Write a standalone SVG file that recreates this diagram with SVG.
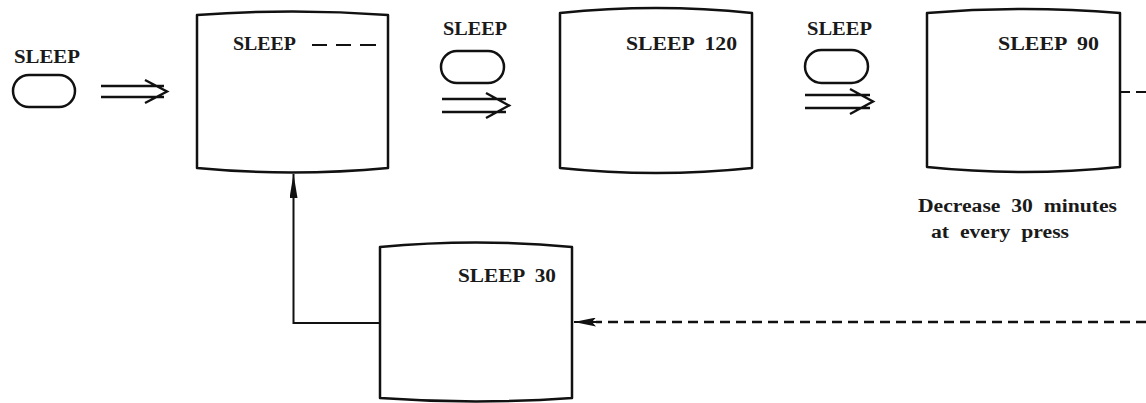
<svg xmlns="http://www.w3.org/2000/svg" width="1146" height="403" viewBox="0 0 1146 403">
<defs>
<marker id="up" markerWidth="24" markerHeight="8" refX="24" refY="4" orient="auto" markerUnits="userSpaceOnUse" viewBox="0 0 24 8">
<path d="M0,0 L24,4 L0,8 Z" fill="#111"/>
</marker>
<marker id="left" markerWidth="22" markerHeight="9" refX="22" refY="4.5" orient="auto" markerUnits="userSpaceOnUse" viewBox="0 0 22 9">
<path d="M0,0 L22,4.5 L0,9 L4,4.5 Z" fill="#111"/>
</marker>
</defs>
<style>
.box{fill:#fff;stroke:#111;stroke-width:2.5;stroke-linejoin:round}
.btn{fill:#fff;stroke:#111;stroke-width:2.5}
.dbl{fill:none;stroke:#111;stroke-width:2.4}
.t{font-family:"Liberation Serif",serif;font-weight:bold;fill:#1a1a1a;font-size:19px}
.n{font-size:18px}
.ln{fill:none;stroke:#111;stroke-width:2}
.dash{fill:none;stroke:#111;stroke-width:2.5;stroke-dasharray:10 6}
</style>
<rect width="1146" height="403" fill="#fff"/>

<g id="btn1">
<text class="t" x="14" y="63" textLength="66" lengthAdjust="spacingAndGlyphs">SLEEP</text>
<rect class="btn" x="13" y="75" width="62" height="32" rx="16"/>
</g>
<g id="arr1">
<path class="dbl" d="M101,86 H164 M101,97 H164 M145,80 L167,91.5 L145,103"/>
</g>

<g id="box1">
<path class="box" d="M197,15 Q292,8 388,15 L388,168 Q292,177 197,168 Z"/>
<text class="t" x="233" y="50" textLength="63" lengthAdjust="spacingAndGlyphs">SLEEP</text>
<path class="ln" d="M312,45 H327 M336,45 H351 M360,45 H376" stroke-width="2.5"/>
</g>

<g id="btn2">
<text class="t" x="443" y="35" textLength="64" lengthAdjust="spacingAndGlyphs">SLEEP</text>
<rect class="btn" x="441" y="51" width="63" height="32" rx="16"/>
</g>
<g id="arr2">
<path class="dbl" d="M442,99 H506 M442,112 H506 M486,93 L509,105.5 L486,118"/>
</g>

<g id="box2">
<path class="box" d="M560,13 Q656,3 752,13 L752,168 Q656,178 560,168 Z"/>
<text class="t" x="626" y="50" textLength="111" lengthAdjust="spacingAndGlyphs" xml:space="preserve">SLEEP  120</text>
</g>

<g id="btn3">
<text class="t" x="807" y="35" textLength="65" lengthAdjust="spacingAndGlyphs">SLEEP</text>
<rect class="btn" x="805" y="50" width="63" height="33" rx="16.5"/>
</g>
<g id="arr3">
<path class="dbl" d="M805,95 H870 M805,108 H870 M850,89 L873,101.5 L850,114"/>
</g>

<g id="box3">
<path class="box" d="M927,13 Q1023,5 1120,13 L1120,167 Q1023,177 927,167 Z"/>
<text class="t" x="998" y="50" textLength="101" lengthAdjust="spacingAndGlyphs" xml:space="preserve">SLEEP  90</text>
</g>

<g id="note">
<text class="t n" x="918" y="212" textLength="199" lengthAdjust="spacingAndGlyphs" xml:space="preserve">Decrease  30  minutes</text>
<text class="t n" x="931" y="238" textLength="138" lengthAdjust="spacingAndGlyphs" xml:space="preserve">at  every  press</text>
</g>

<g id="box4">
<path class="box" d="M380,247 Q476,238 572,247 L572,398 Q476,405 380,398 Z"/>
<text class="t" x="458" y="282" textLength="98" lengthAdjust="spacingAndGlyphs" xml:space="preserve">SLEEP  30</text>
</g>

<g id="connectors">
<path class="ln" d="M1120,92 H1146" stroke-dasharray="10 6" stroke-width="2.5"/>
<path class="dash" d="M1146,322 H596"/>
<path class="ln" d="M598,322 H574" marker-end="url(#left)"/>
<path class="ln" d="M380,323 H293.5 V174" marker-end="url(#up)"/>
</g>
</svg>
